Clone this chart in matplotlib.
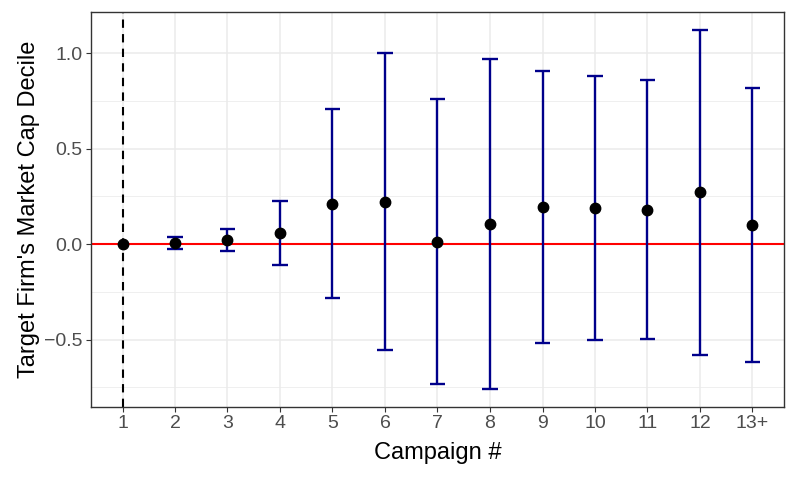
import matplotlib
matplotlib.use("Agg")
import matplotlib.pyplot as plt
from matplotlib.ticker import MultipleLocator

plt.rcParams['font.family'] = ['Liberation Sans', 'DejaVu Sans']

campaigns = ['1', '2', '3', '4', '5', '6', '7', '8', '9', '10', '11', '12', '13+']
estimate = [0.0, 0.005, 0.023, 0.056, 0.211, 0.221, 0.012, 0.103, 0.194, 0.187, 0.178, 0.271, 0.099]
upper = [0.0, 0.038, 0.080, 0.225, 0.705, 0.998, 0.757, 0.967, 0.908, 0.878, 0.857, 1.122, 0.817]
lower = [0.0, -0.028, -0.035, -0.112, -0.283, -0.555, -0.733, -0.761, -0.520, -0.503, -0.499, -0.583, -0.618]

fig = plt.figure(figsize=(7.97, 4.78), dpi=100)
ax = fig.add_axes([91 / 797, 1 - 407 / 478, 693 / 797, 395 / 478])

xs = list(range(1, len(campaigns) + 1))

# grid like theme_bw
ax.set_axisbelow(True)
ax.yaxis.set_major_locator(MultipleLocator(0.5))
ax.yaxis.set_minor_locator(MultipleLocator(0.25))
ax.grid(which='major', color='#EBEBEB', linewidth=1.1)
ax.grid(which='minor', axis='y', color='#EBEBEB', linewidth=0.55)

ax.axhline(0, color='red', linewidth=1.5, zorder=2)
ax.axvline(1, color='black', linestyle=(0, (4, 3)), linewidth=1.5, zorder=2)

# error bars (skip reference category)
for x, lo, hi in zip(xs[1:], lower[1:], upper[1:]):
    ax.vlines(x, lo, hi, color='#00008B', linewidth=1.7, zorder=3)
    ax.hlines([lo, hi], x - 0.15, x + 0.15, color='#00008B', linewidth=1.7, zorder=3)

ax.plot(xs, estimate, 'o', color='black', markersize=7.5, zorder=4)

ax.set_xlim(0.4, len(campaigns) + 0.6)
ax.set_ylim(-0.853, 1.215)
ax.set_xticks(xs)
ax.set_xticklabels(campaigns)
ax.set_yticks([-0.5, 0.0, 0.5, 1.0])
ax.set_yticklabels(['\u22120.5', '0.0', '0.5', '1.0'])

ax.tick_params(which='major', length=3.5, width=0.8, color='#333333',
               labelcolor='#4D4D4D', labelsize=14, pad=2.5)
ax.tick_params(which='minor', length=0)
for s in ax.spines.values():
    s.set_color('#333333')
    s.set_linewidth(1.0)

ax.set_xlabel('Campaign #', fontsize=17, labelpad=7)
ax.set_ylabel("Target Firm's Market Cap Decile", fontsize=17, labelpad=3)

fig.savefig('out.png', dpi=100)
